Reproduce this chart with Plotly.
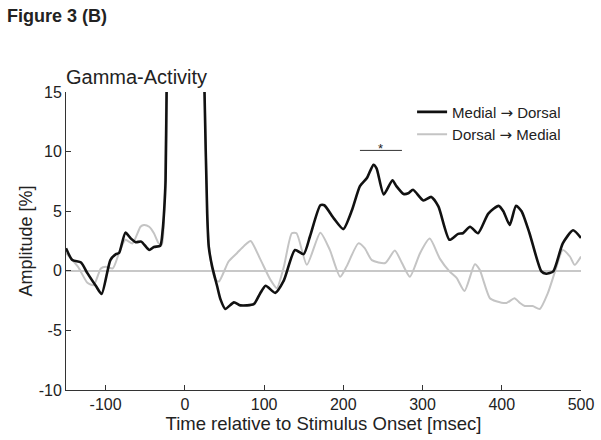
import plotly.graph_objects as go

# ---- data ----
md_time = [-150, -142, -131, -123, -112, -105, -94, -87, -83, -75, -68, -62, -55, -45, -39, -31,
           -28, -26, -24.3, -23, -20, -12, 0, 12, 20, 24.8, 28.2, 30.2, 34.5, 40.8, 45, 51, 62,
           70, 87, 95, 102, 114, 125, 139, 150, 158, 171, 176, 188, 200, 211, 221, 230, 238,
           242, 251, 262, 267, 276, 282, 288, 301, 311, 320, 334, 345, 351, 360, 370, 383, 396,
           402, 410, 418, 425, 435, 450, 456, 465, 477, 490, 500]
md_vals = [1.9, 0.9, 0.7, -0.2, -1.3, -1.95, 0.9, 1.4, 1.5, 3.2, 2.7, 2.4, 2.45, 1.75, 2.0, 2.1,
           3.4, 5.2, 7.6, 15, 30, 50, 60, 50, 30, 15, 4.8, 2.0, 0.35, -1.3, -2.4, -3.2, -2.65,
           -2.9, -2.8, -1.9, -1.25, -1.85, -0.8, 1.75, 1.4, 2.9, 5.5, 5.5, 4.4, 3.5, 5.1, 7.1,
           7.8, 8.9, 8.6, 6.4, 7.6, 7.1, 6.45, 6.5, 6.8, 5.9, 6.2, 5.4, 2.6, 3.1, 3.15, 3.7, 3.15,
           4.8, 5.45, 5.0, 3.85, 5.45, 5.0, 3.15, -0.05, -0.25, -0.05, 2.3, 3.4, 2.75]

dm_time = [-150, -135, -123, -115, -106, -100, -91, -83, -75, -66, -56, -51.6, -45, -39, -33,
           -29, -26, -23.5, -20, -12, 0, 12, 20, 25, 28.5, 31, 35, 38.7, 43, 55.4, 66, 75, 83, 95,
           108, 116, 125, 135, 141, 154, 171, 183, 196, 204, 219, 227, 236, 253, 265, 274, 284,
           297, 309, 322, 334, 343, 353, 366, 372, 385, 393, 406, 416, 423, 429, 439, 448, 458,
           468, 477, 486, 492, 500]
dm_vals = [1.5, 0.35, -1.0, -1.2, 0.2, 0.35, 0.2, 1.5, 2.6, 2.3, 3.7, 3.85, 3.7, 3.15, 2.3,
           2.2, 5.0, 15, 30, 50, 60, 50, 30, 15, 4.5, 1.8, 0.0, -0.75, -0.9, 0.8, 1.5, 2.1, 2.5,
           1.0, -0.75, -1.45, 0.35, 3.15, 3.15, 0.5, 3.2, 1.75, -0.5, 0.35, 2.3, 1.9, 0.9, 0.65,
           1.7, 0.65, -0.5, 1.5, 2.7, 1.0, -0.05, -0.6, -1.7, 0.55, 0.1, -2.3, -2.55, -2.7, -2.3,
           -2.7, -2.95, -2.95, -3.2, -1.9, 0.1, 1.75, 1.2, 0.5, 1.2]

sig_start, sig_end, sig_level = 221, 274, 10.1

x_ticks = [-100, 0, 100, 200, 300, 400, 500]
x_tick_labels = ["-100", "0", "100", "200", "300", "400", "500"]
y_ticks = [-10, -5, 0, 5, 10, 15]
y_tick_labels = ["-10", "-5", "0", "5", "10", "15"]

FONT = "Liberation Sans, Arial, sans-serif"
TXT = "#222222"
ARROW = "<span style='font-family:DejaVu Sans'>\u2192</span>"

fig = go.Figure()
fig.add_trace(go.Scatter(x=dm_time, y=dm_vals, mode="lines", name=f"Dorsal {ARROW} Medial",
                         line=dict(color="#c4c4c4", width=2, shape="spline", smoothing=0.6),
                         legendrank=2))
fig.add_trace(go.Scatter(x=md_time, y=md_vals, mode="lines", name=f"Medial {ARROW} Dorsal",
                         line=dict(color="#111111", width=2.6, shape="spline", smoothing=0.6),
                         legendrank=1))

fig.add_shape(type="line", x0=sig_start, x1=sig_end, y0=sig_level, y1=sig_level,
              xref="x", yref="y", line=dict(color="#333333", width=1))
fig.add_annotation(x=(sig_start + sig_end) / 2, y=sig_level, text="*", showarrow=False,
                   yanchor="bottom", yshift=-8, font=dict(size=13, color=TXT, family=FONT))

fig.add_annotation(xref="paper", yref="paper", x=0, y=(390 - 77) / 298, xanchor="left",
                   yanchor="middle", xshift=-2, text="Gamma-Activity", showarrow=False,
                   font=dict(size=20, color=TXT, family=FONT))

fig.update_layout(
    width=601, height=440,
    margin=dict(l=66, r=20, t=92, b=50, autoexpand=False),
    paper_bgcolor="white", plot_bgcolor="white",
    font=dict(family=FONT, color=TXT, size=16),
    title=dict(text="<b>Figure 3 (B)</b>", x=7 / 601, xanchor="left", xref="container",
               y=1 - 16 / 440, yanchor="middle", yref="container",
               font=dict(size=18, color=TXT, family=FONT)),
    showlegend=True,
    legend=dict(x=0.672, y=0.988, xanchor="left", yanchor="top", bgcolor="rgba(0,0,0,0)",
                font=dict(size=15, color=TXT, family=FONT), borderwidth=0),
    xaxis=dict(range=[-150, 500], tickvals=x_ticks, ticktext=x_tick_labels,
               ticks="inside", ticklen=5, automargin=False,
               tickcolor="#333333", showline=True, linecolor="#333333", linewidth=1,
               showgrid=False, zeroline=False, mirror=False,
               title=dict(text="Time relative to Stimulus Onset [msec]", standoff=0,
                          font=dict(size=18.5, color=TXT, family=FONT)),
               tickfont=dict(size=16, color=TXT, family=FONT)),
    yaxis=dict(range=[-10, 15], tickvals=y_ticks, ticktext=y_tick_labels,
               ticks="inside", ticklen=5, automargin=False,
               tickcolor="#333333", showline=True, linecolor="#333333", linewidth=1,
               showgrid=False, zeroline=True, zerolinecolor="#c8c8c8", zerolinewidth=1.5,
               title=dict(text="Amplitude [%]", standoff=1,
                          font=dict(size=18, color=TXT, family=FONT)),
               tickfont=dict(size=16, color=TXT, family=FONT)),
)

fig.write_html("out.html", config={"displayModeBar": False},
               post_script="document.body.style.margin='0';document.body.style.overflow='hidden';")
